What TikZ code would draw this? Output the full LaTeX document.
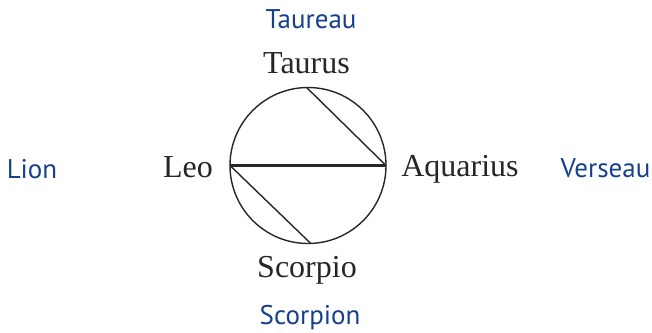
\documentclass[tikz,border=0pt]{standalone}
\usepackage{fontspec}
\setmainfont{Liberation Serif}
\newfontfamily\bluefont{PT Sans}
\definecolor{frblue}{RGB}{22,64,140}
\begin{document}
\begin{tikzpicture}[x=1pt,y=-1pt,
  en/.style={font=\fontsize{32}{32}\selectfont, text=black!85, inner sep=0pt, anchor=base},
  fr/.style={font=\bluefont\fontsize{27}{27}\selectfont, text=frblue, inner sep=0pt, anchor=base},
  chord/.style={line width=1.4pt, black!85}]
\useasboundingbox (0,0) rectangle (652,332);
\node[circle, draw=black!85, line width=1.4pt, minimum size=156pt, inner sep=0pt, outer sep=0pt] (c) at (308,165.5) {};
\draw[chord, line width=2.4pt] (c.180) -- (c.0);
\draw[chord] (c.91.5) -- (c.0);
\draw[chord] (c.180) -- (c.272);
\node[fr] (taureau) at (311,28) {Taureau};
\node[en] (taurus) at (306.5,73) {Taurus};
\node[fr] (lion) at (32,178) {Lion};
\node[en] (leo) at (188,177) {Leo};
\node[en] (aquarius) at (460,176) {Aquarius};
\node[fr] (verseau) at (605.5,177) {Verseau};
\node[en] (scorpio) at (307,277) {Scorpio};
\node[fr] (scorpion) at (310,324.5) {Scorpion};
\end{tikzpicture}
\end{document}
